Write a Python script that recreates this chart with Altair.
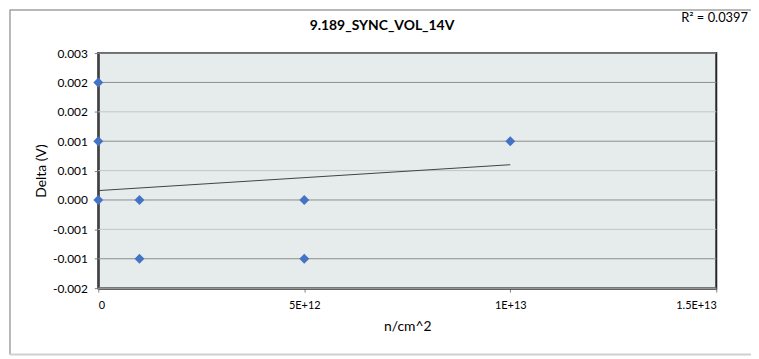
import altair as alt
import pandas as pd

# ---- data ----
x_vals = [0, 0, 0, 1e12, 1e12, 5e12, 5e12, 1e13]
y_vals = [0.002, 0.001, 0.0, 0.0, -0.001, 0.0, -0.001, 0.001]
trend_x = [0, 1e13]
trend_y = [0.00016, 0.0006]
x_ticks = [0, 5e12, 1e13, 1.5e13]
y_ticks = [-0.0015, -0.001, -0.0005, 0.0, 0.0005, 0.001, 0.0015, 0.002, 0.0025]
title_text = "9.189_SYNC_VOL_14V"
r2_text = "R² = 0.0397"

pts = pd.DataFrame({"x": x_vals, "y": y_vals})
trend = pd.DataFrame({"x": trend_x, "y": trend_y})
grid = pd.DataFrame({"y": y_ticks})

FONT = "Lato"
W, H = 623, 237

xscale = alt.Scale(domain=[0, 1.5e13], nice=False, zero=False)
yscale = alt.Scale(domain=[-0.0015, 0.0025], nice=False, zero=False)

xaxis = alt.Axis(
    values=x_ticks, tickCount=20,
    labelExpr="datum.value == 0 ? '0' : upper(format(datum.value, '~e'))",
    grid=False, tickSize=4, tickColor="#808080", labelPadding=8,
    labelOverlap=False,
    labelFont=FONT, labelFontSize=11, labelColor="#000000",
    domainColor="#404040", domainWidth=2,
    title="n/cm^2", titleFont=FONT, titleFontSize=14, titleFontWeight="normal",
    titleColor="#000000", titleX=W / 2, titleY=39, titleBaseline="middle",
    titleAlign="center",
)
yaxis = alt.Axis(
    values=y_ticks, tickCount=20,
    labelExpr="replace(format(datum.value, '.3f'), '\u2212', '-')",
    labelOverlap=False,
    grid=False,
    tickSize=4, tickColor="#808080", labelPadding=7,
    labelFont=FONT, labelFontSize=12, labelColor="#000000",
    domainColor="#404040", domainWidth=2,
    title="Delta (V)", titleFont=FONT, titleFontSize=14, titleFontWeight="normal",
    titleColor="#000000", titleAngle=-90, titleX=-57, titleY=H / 2,
    titleBaseline="middle", titleAlign="center",
)

gridlines = alt.Chart(grid).mark_rule(strokeWidth=1).encode(
    y=alt.Y("y:Q", scale=yscale, axis=yaxis),
    color=alt.condition("round(datum.y*2000) % 2 == 0", alt.value("#8c8c8c"), alt.value("#c4c4c4")),
)

points = alt.Chart(pts).mark_point(
    shape="diamond", filled=True, size=100, color="#4472C4", opacity=1
).encode(
    x=alt.X("x:Q", scale=xscale, axis=xaxis),
    y=alt.Y("y:Q", scale=yscale),
)

trendline = alt.Chart(trend).mark_line(color="#404040", strokeWidth=1).encode(
    x=alt.X("x:Q", scale=xscale),
    y=alt.Y("y:Q", scale=yscale),
)

title = alt.Chart(pd.DataFrame({"t": [title_text]})).mark_text(
    font=FONT, fontSize=14, fontWeight="bold", color="#000000",
    align="center", baseline="middle"
).encode(x=alt.value(286), y=alt.value(-27), text="t:N")

r2 = alt.Chart(pd.DataFrame({"t": [r2_text]})).mark_text(
    font=FONT, fontSize=13, color="#000000", align="right", baseline="middle"
).encode(x=alt.value(655), y=alt.value(-35), text="t:N")

frame_left = alt.Chart(pd.DataFrame({"a": [0]})).mark_rule(color="#a0a0a0", strokeWidth=1.5).encode(
    x=alt.value(-89), y=alt.value(-44), y2=alt.value(304)
)
frame_top = alt.Chart(pd.DataFrame({"a": [0]})).mark_rule(color="#a0a0a0", strokeWidth=1.5).encode(
    x=alt.value(-89), x2=alt.value(660), y=alt.value(-43.5)
)
frame_bottom = alt.Chart(pd.DataFrame({"a": [0]})).mark_rule(color="#d0d0d0", strokeWidth=2).encode(
    x=alt.value(-89), x2=alt.value(660), y=alt.value(304)
)

chart = alt.layer(
    frame_left, frame_top, frame_bottom, gridlines, trendline, points, title, r2
).properties(
    width=W, height=H,
    autosize=alt.AutoSizeParams(type="none"),
    padding={"left": 91, "top": 44, "right": 35, "bottom": 68},
    background="#ffffff",
).configure_view(
    fill="#e6ecec", stroke="#262626", strokeWidth=2
)

chart.save("out.html", embed_options={"renderer": "svg", "actions": False})
